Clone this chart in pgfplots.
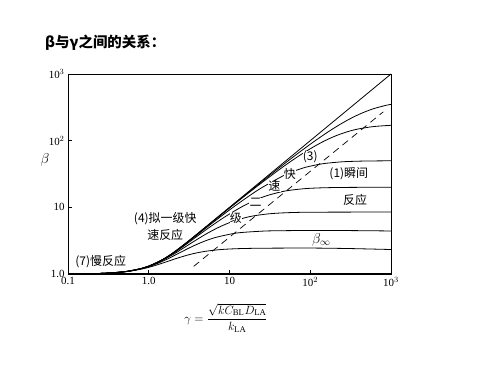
\documentclass[border=0pt]{standalone}
\usepackage{pgfplots}
\pgfplotsset{compat=1.18}
\usepackage{fontspec}
\setmainfont{Liberation Serif}
\newfontfamily\cjk{Noto Sans CJK SC}
\pgfplotsset{curve/.style={black, solid, line width=0.8bp, smooth, mark=none}}
\begin{document}
\begin{tikzpicture}[x=1bp,y=1bp]
\path[use as bounding box] (0,0) rectangle (500,375);
\node[anchor=west, font=\cjk\bfseries\fontsize{14.5}{16}\selectfont, inner sep=0pt] at (45,332) {β与γ之间的关系：};
\node[font=\fontsize{12.5}{14}\selectfont] at (226,57) {$\displaystyle\gamma=\frac{\sqrt{kC_{\mathrm{BL}}D_{\mathrm{LA}}}}{k_{\mathrm{LA}}}$};
\node[font=\fontsize{15}{16}\selectfont] at (45,215) {$\beta$};
\begin{axis}[
  at={(68bp,101bp)}, anchor=south west,
  width=323bp, height=200bp, scale only axis,
  xmode=log, ymode=log,
  xmin=0.1, xmax=1000, ymin=1, ymax=1000,
  xtick={0.1,1,10,100,1000}, xticklabels={0.1,1.0,10,10$^2$,10$^3$},
  ytick={1,10,100,1000}, yticklabels={1.0,10,10$^2$,10$^3$},
  xminorticks=false, yminorticks=false,
  tick pos=left, tick align=inside, major tick length=4bp,
  tick style={black, line width=0.8bp},
  tick label style={font=\fontsize{11}{12}\selectfont},
  axis line style={line width=0.9bp},
]
% (4) pseudo-first-order line
\addplot[curve] coordinates {(0.1,1.003)(0.2,1.013)(0.3,1.030)(0.4,1.053)(0.5,1.082)(0.6,1.117)(0.7,1.160)(0.8,1.205)(0.9,1.256)(1,1.313)(1.2,1.439)(1.5,1.657)(2,2.075)(2.5,2.533)(3,3.015)(4,4.003)(5,5.0)(10,10)(100,100)(1000,1000)};
% beta_inf ~ 2.45
\addplot[curve] coordinates {(0.1,1.003)(0.2,1.013)(0.3,1.030)(0.397,1.05)(0.575,1.1)(0.851,1.2)(1.100,1.3)(1.594,1.5)(2.162,1.7)(2.923,1.9)(3.437,2.0)(4.13,2.1)(5.15,2.2)(7.0,2.3)(8.78,2.35)(12.7,2.4)(20.4,2.43)(28.9,2.44)(100,2.45)(300,2.41)(1000,2.33)};
% beta_inf ~ 4.5
\addplot[curve] coordinates {(0.1,1.003)(0.2,1.013)(0.3,1.030)(0.393,1.05)(0.563,1.1)(0.814,1.2)(1.025,1.3)(1.393,1.5)(1.739,1.7)(2.266,2.0)(3.26,2.5)(4.56,3.0)(6.53,3.5)(10.6,4.0)(14.3,4.2)(26,4.4)(37.2,4.45)(84,4.49)(300,4.48)(1000,4.42)};
% beta_inf ~ 8.5
\addplot[curve] coordinates {(0.1,1.003)(0.2,1.013)(0.3,1.030)(0.559,1.1)(0.80,1.2)(1.0,1.3)(1.335,1.5)(2.057,2.0)(2.757,2.5)(3.49,3.0)(5.16,4.0)(7.32,5.0)(10.4,6.0)(15.7,7.0)(20.5,7.5)(31,8.0)(50.8,8.3)(103.5,8.45)(1000,8.5)};
% beta_inf ~ 20
\addplot[curve] coordinates {(0.1,1.003)(0.2,1.013)(0.3,1.030)(0.556,1.1)(0.794,1.2)(0.988,1.3)(1.307,1.5)(1.968,2.0)(2.568,2.5)(3.155,3.0)(4.355,4.0)(5.63,5.0)(8.46,7.0)(13.8,10)(21.4,13)(29.2,15)(42.8,17)(55.5,18)(82.8,19)(120,19.5)(193,19.8)(389,19.95)(1000,20)};
% beta_inf ~ 50
\addplot[curve] coordinates {(0.1,1.003)(0.2,1.013)(0.3,1.030)(0.5,1.082)(0.8,1.205)(1.0,1.313)(1.297,1.5)(1.935,2.0)(3.05,3.0)(5.22,5.0)(7.47,7.0)(11.07,10)(17.75,15)(25.6,20)(46.9,30)(63.3,35)(88.5,40)(141,45)(238,48)(343,49)(490,49.5)(779,49.8)(1000,49.85)};
% beta_inf ~ 175
\addplot[curve] coordinates {(0.1,1.003)(0.2,1.013)(0.3,1.030)(0.5,1.082)(0.8,1.205)(1,1.313)(1.5,1.657)(2,2.075)(3,3.015)(5.06,5)(10.27,10)(21.19,20)(45.4,40)(73.8,60)(108.3,80)(152.3,100)(213.4,120)(312,140)(395.7,150)(545,160)(688,165)(1000,170)};
% beta_inf ~ 400
\addplot[curve] coordinates {(0.1,1.003)(0.2,1.013)(0.3,1.030)(0.5,1.082)(0.8,1.205)(1,1.313)(1.5,1.657)(2,2.075)(3,3.015)(5,5)(10.12,10)(31.2,30)(65,60)(115.3,100)(189.5,150)(282.5,200)(407.8,250)(599.3,300)(876.8,340)(1000,350)};
% dashed boundary
\addplot[black, dash pattern=on 7bp off 5bp, line width=0.7bp, sharp plot, mark=none] coordinates {(3.6,1.3)(800,270)};
\draw[line width=1.6bp] (rel axis cs:0,1) -- (rel axis cs:0,0) -- (rel axis cs:1,0);
\begin{scope}[every node/.style={font=\cjk\fontsize{12}{13}\selectfont}]
\node[anchor=west] at (rel axis cs:0.012,0.06) {(7)慢反应};
\node at (axis cs:1.6,6.8) {(4)拟一级快};
\node at (axis cs:1.6,3.9) {速反应};
\node[fill=white, inner sep=0.3bp] at (axis cs:12,6.86) {级};
\node[fill=white, inner sep=0.3bp] at (axis cs:21,12.0) {二};
\node[fill=white, inner sep=0.3bp] at (axis cs:36,20.6) {速};
\node[fill=white, inner sep=0.3bp] at (axis cs:56,32) {快};
\node[fill=white, inner sep=0.3bp] at (axis cs:100,57) {(3)};
\node at (axis cs:300,31.6) {(1)瞬间};
\node at (axis cs:360,13) {反应};
\end{scope}
\node[font=\fontsize{14}{15}\selectfont] at (axis cs:137,3.25) {$\beta_\infty$};
\end{axis}
\end{tikzpicture}
\end{document}
